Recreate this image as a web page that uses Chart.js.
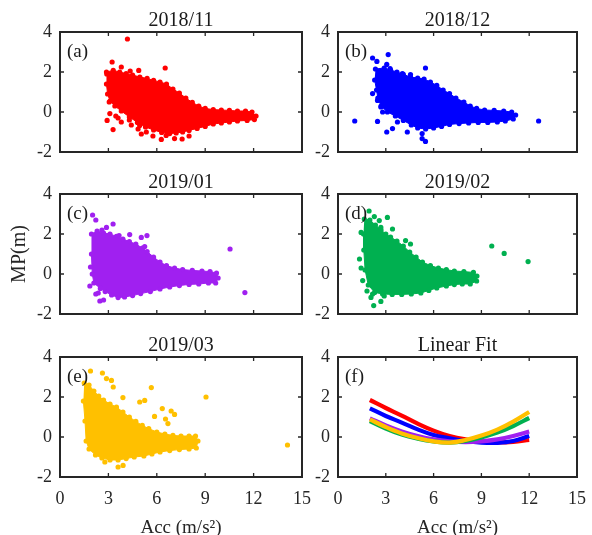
<!DOCTYPE html>
<html>
<head>
<meta charset="utf-8">
<script src="https://cdn.jsdelivr.net/npm/chart.js@4.4.0/dist/chart.umd.min.js"></script>
<style>
  html, body { margin: 0; padding: 0; background: #fff; }
  #wrap { position: relative; width: 592px; height: 535px; overflow: hidden; }
  #wrap canvas { position: absolute; }
</style>
</head>
<body>
<div id="wrap">
  <canvas id="pa"></canvas>
  <canvas id="pb"></canvas>
  <canvas id="pc"></canvas>
  <canvas id="pd"></canvas>
  <canvas id="pe"></canvas>
  <canvas id="pf"></canvas>
</div>
<script>
const monthTitles = ["2018/11", "2018/12", "2019/01", "2019/02", "2019/03"];
const panelTags = ["(a)", "(b)", "(c)", "(d)", "(e)", "(f)"];
const monthColors = ["#ff0000", "#0000ff", "#a020f0", "#00b050", "#ffc000"];
const xTicks = [0, 3, 6, 9, 12, 15];
const yTicks = [-2, 0, 2, 4];

// outline of the dense part of each month's cloud (Acc, MP)
const cloudNov = [[2.88,2.0],[3.3,2.08],[3.7,2.0],[4.1,1.92],[4.5,1.85],[4.95,1.75],[5.4,1.68],[5.8,1.58],[6.2,1.5],[6.6,1.4],[7.0,1.15],[7.4,0.95],[7.8,0.7],[8.2,0.48],[8.6,0.3],[9.0,0.18],[9.5,0.12],[10.0,0.1],[10.5,0.08],[11.0,0.05],[11.5,0.05],[11.9,0.0],[12.15,-0.2],[12.05,-0.38],[11.6,-0.42],[11.0,-0.45],[10.5,-0.5],[10.0,-0.55],[9.5,-0.6],[9.0,-0.72],[8.5,-0.82],[8.0,-0.92],[7.6,-1.0],[7.2,-1.05],[6.8,-1.08],[6.3,-1.02],[5.8,-0.9],[5.3,-0.75],[4.8,-0.52],[4.3,-0.25],[3.8,0.05],[3.4,0.3],[3.1,0.55],[2.95,0.9],[2.88,1.4]];
const cloudDec = [[2.35,2.15],[2.9,2.2],[3.3,2.1],[3.7,2.0],[4.1,1.88],[4.55,1.75],[5.0,1.7],[5.4,1.65],[5.8,1.5],[6.2,1.33],[6.6,1.1],[7.0,0.92],[7.4,0.7],[7.9,0.5],[8.3,0.3],[8.7,0.18],[9.2,0.1],[9.8,0.08],[10.4,0.05],[10.9,0.0],[11.15,-0.15],[11.0,-0.35],[10.5,-0.45],[10.0,-0.5],[9.4,-0.52],[8.8,-0.52],[8.2,-0.55],[7.6,-0.58],[7.0,-0.62],[6.5,-0.72],[6.0,-0.8],[5.5,-0.85],[5.0,-0.8],[4.6,-0.65],[4.1,-0.42],[3.6,-0.2],[3.1,0.0],[2.7,0.3],[2.5,0.7],[2.42,1.1],[2.3,1.6]];
const cloudJan = [[1.95,2.0],[2.3,2.15],[2.7,2.05],[3.1,2.0],[3.5,1.88],[3.9,1.75],[4.3,1.62],[4.7,1.5],[5.1,1.3],[5.4,1.12],[5.8,0.85],[6.2,0.6],[6.6,0.42],[7.1,0.3],[7.6,0.22],[8.2,0.18],[8.8,0.15],[9.3,0.12],[9.7,0.05],[9.8,-0.2],[9.65,-0.45],[9.2,-0.45],[8.6,-0.5],[8.0,-0.52],[7.4,-0.58],[6.8,-0.65],[6.2,-0.75],[5.6,-0.88],[5.0,-0.98],[4.5,-1.08],[4.0,-1.15],[3.6,-1.18],[3.2,-1.05],[2.8,-0.88],[2.5,-0.72],[2.1,-0.45],[2.0,0.0],[1.95,1.0]];
const cloudFeb = [[1.65,2.75],[2.0,2.7],[2.35,2.45],[2.7,2.2],[3.0,2.0],[3.3,1.85],[3.7,1.65],[4.1,1.4],[4.5,1.1],[4.9,0.85],[5.3,0.6],[5.8,0.42],[6.3,0.3],[6.8,0.22],[7.3,0.15],[7.9,0.12],[8.5,0.08],[8.72,-0.1],[8.7,-0.35],[8.3,-0.5],[7.8,-0.5],[7.3,-0.53],[6.8,-0.6],[6.2,-0.7],[5.7,-0.82],[5.2,-0.95],[4.6,-1.0],[4.0,-1.02],[3.4,-1.02],[2.8,-1.0],[2.3,-0.92],[1.9,-0.55],[1.7,0.2],[1.62,1.2],[1.6,2.0]];
const cloudMar = [[1.5,2.7],[1.8,2.6],[2.1,2.3],[2.4,2.05],[2.7,1.85],[3.1,1.65],[3.5,1.5],[3.9,1.25],[4.3,1.0],[4.7,0.78],[5.1,0.58],[5.5,0.42],[6.0,0.25],[6.5,0.15],[7.0,0.08],[7.5,0.05],[8.0,0.05],[8.4,0.05],[8.55,-0.2],[8.45,-0.55],[8.0,-0.6],[7.4,-0.63],[6.8,-0.68],[6.2,-0.75],[5.7,-0.85],[5.2,-0.95],[4.6,-1.0],[4.1,-1.08],[3.6,-1.15],[3.1,-1.15],[2.6,-1.05],[2.2,-0.9],[1.8,-0.6],[1.62,-0.2],[1.55,0.8],[1.45,1.8]];

// scattered samples lying outside the dense clouds
const strayNov = [[4.18,3.65],[3.23,2.5],[3.8,2.25],[4.35,2.05],[4.88,2.08],[6.52,2.2],[3.05,0.5],[3.09,-0.08],[2.92,-0.42],[3.29,-0.88],[3.46,-0.2],[3.8,-0.5],[4.3,-0.4],[4.42,-0.65],[4.84,-0.85],[5.04,-1.1],[5.35,-1.0],[5.76,-1.2],[6.28,-1.37],[7.1,-1.33],[7.57,-1.35],[6.58,-1.17],[8.0,-1.2],[4.94,-0.67],[3.15,1.0],[2.9,1.9],[3.6,-0.3]];
const strayDec = [[1.05,-0.45],[2.17,2.7],[3.15,2.87],[2.44,2.53],[3.06,2.38],[5.49,2.2],[3.27,2.17],[4.04,1.92],[4.55,1.87],[2.17,0.92],[2.48,0.58],[2.48,-0.47],[3.06,-1.0],[3.42,-0.83],[3.73,-0.5],[4.35,-1.0],[5.28,-1.08],[5.49,-1.47],[5.28,-1.33],[2.8,0.0],[2.69,0.25],[12.59,-0.45]];
const strayJan = [[2.02,2.95],[2.22,2.7],[3.29,2.5],[2.88,2.33],[3.66,1.92],[4.32,1.97],[5.04,1.83],[5.39,1.92],[5.25,1.37],[1.89,0.35],[1.85,-0.6],[2.37,-0.95],[2.47,-1.35],[2.7,-1.3],[2.22,-1.0],[10.54,1.25],[11.46,-0.93],[2.6,2.2]];
const strayFeb = [[1.95,3.15],[2.28,2.87],[2.59,2.67],[3.1,2.83],[2.69,2.33],[3.42,2.25],[4.24,1.67],[4.55,1.5],[1.45,2.08],[1.35,0.75],[1.45,0.3],[1.55,-0.33],[1.82,-0.85],[2.07,-1.17],[2.24,-1.58],[2.69,-1.37],[2.9,-1.1],[2.17,-1.0],[9.65,1.4],[10.43,1.03],[11.93,0.62]];
const strayMar = [[1.89,3.3],[2.63,3.2],[2.88,2.92],[3.19,2.83],[5.66,2.47],[4.94,1.75],[5.25,1.83],[6.34,1.42],[6.89,1.3],[7.1,1.13],[6.54,0.9],[5.86,1.03],[6.69,0.67],[9.05,2.0],[3.6,-1.5],[3.91,-1.42],[2.78,-1.25],[14.1,-0.4],[3.9,1.97],[3.3,2.5]];

// fitted curves, sampled at whole Acc values
const fitAcc = [2, 3, 4, 5, 6, 7, 8, 9, 10, 11, 12];
const fitNov = [1.85, 1.45, 1.07, 0.67, 0.32, 0.05, -0.12, -0.22, -0.27, -0.24, -0.15];
const fitDec = [1.43, 1.05, 0.72, 0.38, 0.1, -0.06, -0.2, -0.28, -0.29, -0.2, 0.05];
const fitJan = [0.93, 0.58, 0.28, 0.05, -0.12, -0.22, -0.26, -0.22, -0.12, 0.05, 0.27];
const fitFeb = [0.8, 0.42, 0.12, -0.08, -0.22, -0.28, -0.2, -0.02, 0.22, 0.55, 0.95];
const fitMar = [0.88, 0.5, 0.18, -0.05, -0.22, -0.28, -0.15, 0.07, 0.37, 0.77, 1.25];

const clouds = [cloudNov, cloudDec, cloudJan, cloudFeb, cloudMar];
const strays = [strayNov, strayDec, strayJan, strayFeb, strayMar];
const fits = [fitNov, fitDec, fitJan, fitFeb, fitMar];

const SERIF = '"Liberation Serif", "Times New Roman", serif';
const INK = "#262626";
const toXY = pts => pts.map(([x, y]) => ({ x, y }));

// box around the axes, inward tick marks and the panel letter
const framePlugin = {
  id: "frame",
  afterDatasetsDraw(chart, args, opts) {
    const { ctx, chartArea: a, scales: { x, y } } = chart;
    ctx.save();
    ctx.strokeStyle = INK;
    ctx.lineWidth = 1.3;
    ctx.beginPath();
    xTicks.forEach(v => {
      const px = x.getPixelForValue(v);
      ctx.moveTo(px, a.bottom); ctx.lineTo(px, a.bottom - 4);
      ctx.moveTo(px, a.top); ctx.lineTo(px, a.top + 4);
    });
    yTicks.forEach(v => {
      const py = y.getPixelForValue(v);
      ctx.moveTo(a.left, py); ctx.lineTo(a.left + 4, py);
      ctx.moveTo(a.right, py); ctx.lineTo(a.right - 4, py);
    });
    ctx.stroke();
    ctx.lineWidth = 2;
    ctx.strokeRect(a.left, a.top, a.width, a.height);
    ctx.fillStyle = "#1a1a1a";
    ctx.font = "19px " + SERIF;
    ctx.textBaseline = "middle";
    ctx.textAlign = "left";
    ctx.fillText(opts.tag, a.left + 7, a.top + 20);
    ctx.restore();
  }
};

function makePanel(id, left, top, plotW, bottomRow, title, tag, datasets, yTitle) {
  const xAxisH = bottomRow ? 58 : 16;
  const canvas = document.getElementById(id);
  canvas.width = 60 + plotW + 12;
  canvas.height = 32 + 120 + xAxisH;
  canvas.style.left = left + "px";
  canvas.style.top = top + "px";

  return new Chart(canvas, {
    type: "scatter",
    data: { datasets },
    plugins: [framePlugin],
    options: {
      responsive: false,
      animation: false,
      events: [],
      layout: { padding: { left: 0, top: 0, bottom: 0, right: 12 } },
      plugins: {
        legend: { display: false },
        tooltip: { enabled: false },
        title: {
          display: true,
          text: title,
          fullSize: false,
          color: "#1a1a1a",
          font: { family: SERIF, size: 20, weight: "normal", lineHeight: 1.1 },
          padding: { top: 10, bottom: 0 }
        },
        frame: { tag }
      },
      scales: {
        x: {
          type: "linear",
          min: 0,
          max: 15,
          afterBuildTicks: s => { s.ticks = xTicks.map(v => ({ value: v })); },
          afterFit: s => { s.height = xAxisH; s.paddingLeft = 0; s.paddingRight = 0; },
          ticks: { display: bottomRow, padding: 11, color: INK, font: { family: SERIF, size: 18 } },
          grid: { display: false, drawTicks: false },
          border: { display: false },
          title: {
            display: bottomRow,
            text: "Acc (m/s²)",
            color: INK,
            font: { family: SERIF, size: 19, lineHeight: 0.7 },
            padding: 0
          }
        },
        y: {
          type: "linear",
          min: -2,
          max: 4,
          afterBuildTicks: s => { s.ticks = yTicks.map(v => ({ value: v })); },
          afterFit: s => { s.width = 60; s.paddingTop = 0; s.paddingBottom = 0; },
          ticks: { padding: 8, color: INK, font: { family: SERIF, size: 18 } },
          grid: { display: false, drawTicks: false },
          border: { display: false },
          title: {
            display: !!yTitle,
            text: yTitle || "",
            color: INK,
            font: { family: SERIF, size: 20, lineHeight: 1.2 },
            padding: { top: 8, bottom: 0 }
          }
        }
      }
    }
  });
}

function monthSets(i) {
  const c = monthColors[i];
  return [
    {
      data: toXY(strays[i]),
      pointRadius: 2.6,
      pointBorderWidth: 0,
      pointBackgroundColor: c
    },
    {
      data: toXY(clouds[i]),
      showLine: true,
      fill: "shape",
      tension: 0,
      borderWidth: 1,
      borderColor: c,
      backgroundColor: c,
      pointRadius: 2.6,
      pointBorderWidth: 0,
      pointBackgroundColor: c
    }
  ];
}

// panel grid: canvas left/top, plot width
const cols = [{ left: 0, w: 242 }, { left: 278, w: 239 }];
const rowTops = [0, 162, 325];
const ids = ["pa", "pb", "pc", "pd", "pe"];

ids.forEach((id, i) => {
  const col = cols[i % 2];
  const row = Math.floor(i / 2);
  makePanel(id, col.left, rowTops[row], col.w, row === 2, monthTitles[i], panelTags[i],
    monthSets(i), i === 2 ? "MP(m)" : null);
});

// fitted curves; later months sit on top
const fitSets = fits.map((vals, i) => ({
  data: fitAcc.map((x, k) => ({ x, y: vals[k] })),
  showLine: true,
  fill: false,
  tension: 0.4,
  borderColor: monthColors[i],
  borderWidth: 4.2,
  pointRadius: 0,
  order: 5 - i
}));
makePanel("pf", cols[1].left, rowTops[2], cols[1].w, true, "Linear Fit", panelTags[5], fitSets, null);
</script>
</body>
</html>
